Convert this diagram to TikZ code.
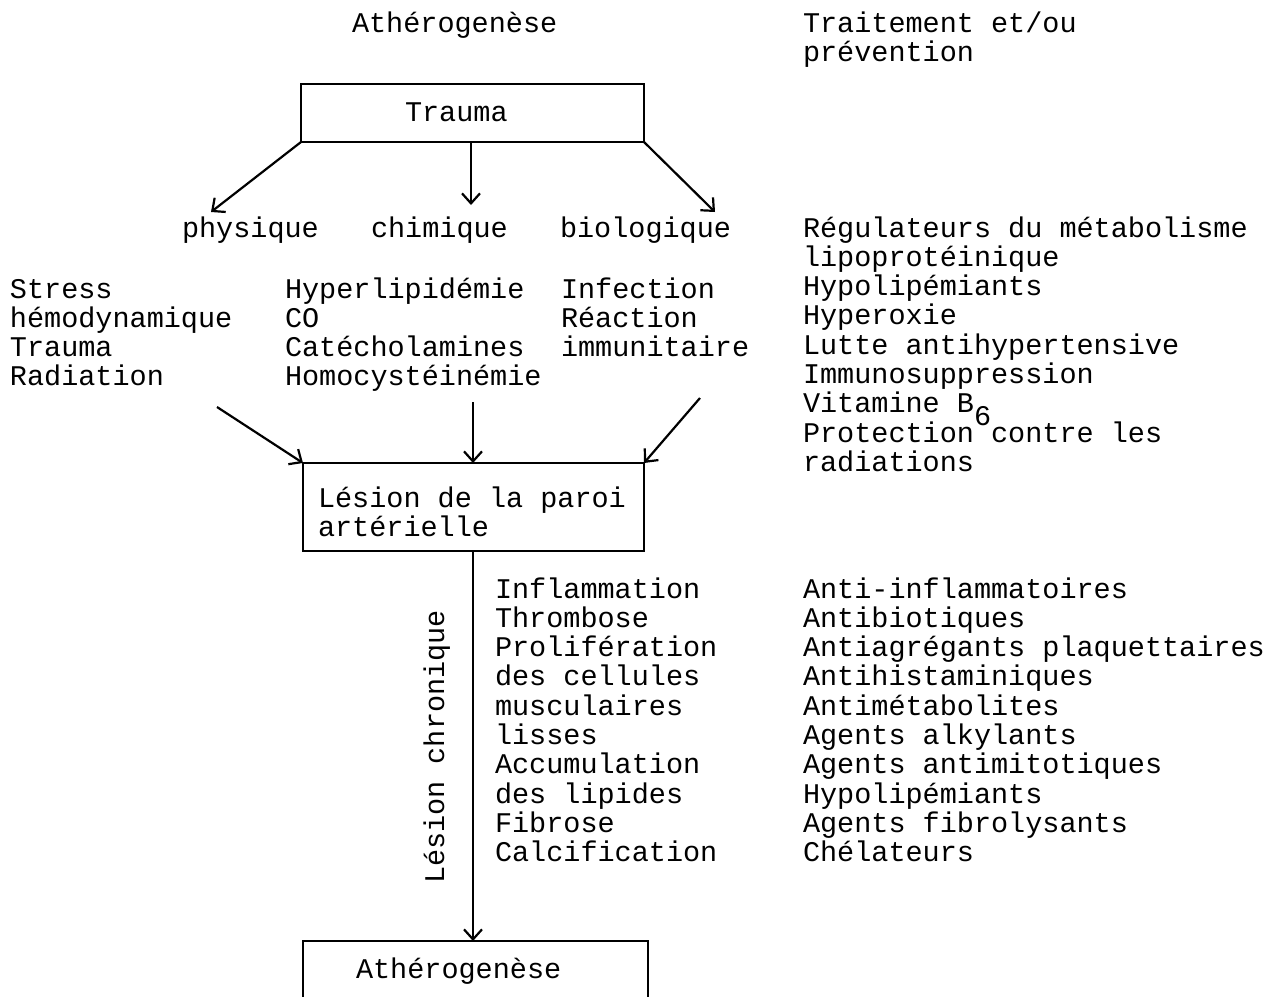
\documentclass[tikz,border=0pt]{standalone}
\usepackage{fontspec}
\setmainfont{Liberation Mono}
\usetikzlibrary{arrows.meta}

\begin{document}
\begin{tikzpicture}[x=0.5pt, y=-0.5pt,
		font=\fontsize{14.25pt}{14.65pt}\selectfont,
		txt/.style={anchor=base west, inner sep=0pt, outer sep=0pt, align=flush left},
		boite/.style={draw, line width=1.1pt, anchor=base west, outer sep=0pt, inner ysep=0pt, align=flush left},
		fleche/.style={line width=1.1pt, -{Straight Barb[length=5pt, width=9pt]}}]
		\useasboundingbox (0,0) rectangle (1276,997);
		\clip (0,0) rectangle (1276,997);

		% titres
		\node[txt] (titre) at (352,32) {Athérogenèse};
		\node[txt, text width=150pt] (traitement) at (803,32) {Traitement et/ou\\prévention};

		% cadres
		\node[boite, inner xsep=52pt, text width=67.5pt, text height=18.5pt, text depth=10.5pt] (trauma) at (301,121) {Trauma};
		\node[boite, inner xsep=7.5pt, text width=155.5pt, text height=22pt, text depth=22pt] (lesion) at (303,507) {Lésion de la paroi\\artérielle};
		\node[boite, inner xsep=26.5pt, text width=119.5pt, text height=18.5pt, text depth=20pt] (athero) at (303,978) {Athérogenèse};

		% types de trauma
		\node[txt] (physique) at (182,237) {physique};
		\node[txt] (chimique) at (371,237) {chimique};
		\node[txt] (biologique) at (560,237) {biologique};

		\node[txt, text width=130pt] (causephys) at (10,298) {Stress\\hémodynamique\\Trauma\\Radiation};
		\node[txt, text width=135pt] (causechim) at (285,298) {Hyperlipidémie\\CO\\Catécholamines\\Homocystéinémie};
		\node[txt, text width=110pt] (causebio) at (561,298) {Infection\\Réaction\\immunitaire};

		\node[txt, text width=234pt] (prevention) at (803,237) {Régulateurs du métabolisme\\lipoprotéinique\\Hypolipémiants\\Hyperoxie\\Lutte antihypertensive\\Immunosuppression\\Vitamine B\raisebox{-6.5pt}[0pt][0pt]{6}\\Protection contre les\\radiations};

		% lesion chronique
		\node[txt, text width=130pt] (processus) at (495,598) {Inflammation\\Thrombose\\Prolifération\\des cellules\\musculaires\\lisses\\Accumulation\\des lipides\\Fibrose\\Calcification};
		\node[txt, text width=234pt] (traitements) at (803,598) {Anti-inflammatoires\\Antibiotiques\\Antiagrégants plaquettaires\\Antihistaminiques\\Antimétabolites\\Agents alkylants\\Agents antimitotiques\\Hypolipémiants\\Agents fibrolysants\\Chélateurs};
		\node[rotate=90, anchor=base, inner sep=0pt] (chronique) at (444,747) {Lésion chronique};

		% fleches
		\coordinate (pe) at (211,212);
		\coordinate (ce) at (471,205);
		\coordinate (be) at (715,212);
		\coordinate (ls) at (217,407);
		\coordinate (ms) at (473,402);
		\coordinate (rs) at (700,398);

		\draw[fleche] (trauma.south west) -- (pe);
		\draw[fleche] (trauma.south -| ce) -- (ce);
		\draw[fleche] (trauma.south east) -- (be);

		\draw[fleche] (ls) -- (lesion.north west);
		\draw[fleche] (ms) -- (ms |- lesion.north);
		\draw[fleche] (rs) -- (lesion.north east);

		\draw[fleche] (lesion.south -| ms) -- (ms |- athero.north);

	\end{tikzpicture}
\end{document}
